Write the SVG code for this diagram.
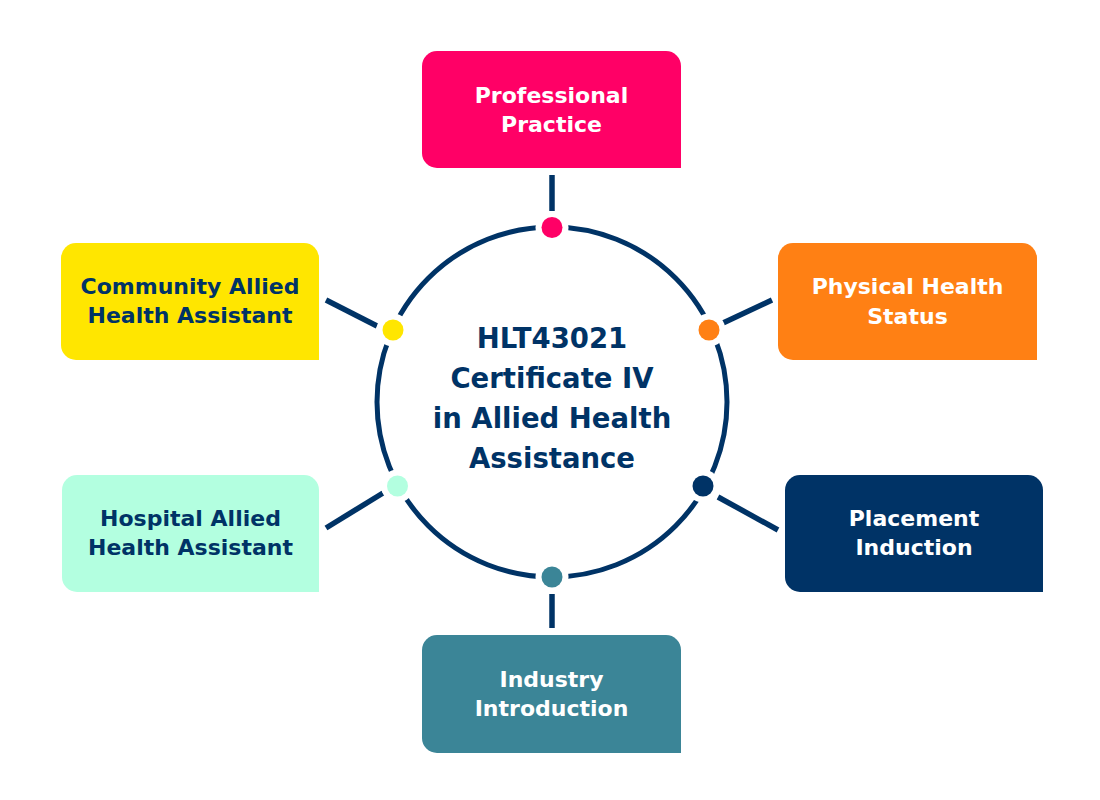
<svg xmlns="http://www.w3.org/2000/svg" width="1100" height="800" viewBox="0 0 1100 800">
<style>
.box-text{font-family:"DejaVu Sans","Liberation Sans",sans-serif;font-weight:bold;font-size:22px;text-anchor:middle}
.center-text{font-family:"DejaVu Sans","Liberation Sans",sans-serif;font-weight:bold;font-size:27.5px;text-anchor:middle;fill:#003366}
.light{fill:#ffffff}
.dark{fill:#003366}
.conn{stroke:#003366;stroke-width:5.5;fill:none}
.halo{fill:#ffffff}
</style>
<rect width="1100" height="800" fill="#ffffff"/>
<g id="center">
<circle cx="552" cy="402" r="175" fill="none" stroke="#003366" stroke-width="5"/>
<text class="center-text" x="552" y="348">HLT43021</text>
<text class="center-text" x="552" y="388">Certificate IV</text>
<text class="center-text" x="552" y="428">in Allied Health</text>
<text class="center-text" x="552" y="468">Assistance</text>
</g>
<g id="connectors">
<line class="conn" x1="552" y1="175" x2="552" y2="211"/>
<line class="conn" x1="552" y1="594" x2="552" y2="628"/>
<line class="conn" x1="326" y1="300" x2="377" y2="326"/>
<line class="conn" x1="723" y1="323" x2="772" y2="300"/>
<line class="conn" x1="326" y1="528" x2="383" y2="493"/>
<line class="conn" x1="718" y1="497" x2="778" y2="530"/>
</g>
<g id="professional-practice">
<path d="M437,51 H666 A15,15 0 0 1 681,66 V168 H437 A15,15 0 0 1 422,153 V66 A15,15 0 0 1 437,51 Z" fill="#ff0066"/>
<text class="box-text light" x="551.5" y="103">Professional</text>
<text class="box-text light" x="551.5" y="132">Practice</text>
<circle class="halo" cx="552" cy="227.5" r="16.5"/>
<circle cx="552" cy="227.5" r="10.5" fill="#ff0066"/>
</g>
<g id="community-allied">
<path d="M76,243 H304 A15,15 0 0 1 319,258 V360 H76 A15,15 0 0 1 61,345 V258 A15,15 0 0 1 76,243 Z" fill="#ffe600"/>
<text class="box-text dark" x="190" y="294">Community Allied</text>
<text class="box-text dark" x="190" y="323">Health Assistant</text>
<circle class="halo" cx="393" cy="330" r="16.5"/>
<circle cx="393" cy="330" r="10.5" fill="#ffe600"/>
</g>
<g id="physical-health">
<path d="M793,243 H1022 A15,15 0 0 1 1037,258 V360 H793 A15,15 0 0 1 778,345 V258 A15,15 0 0 1 793,243 Z" fill="#ff8014"/>
<text class="box-text light" x="907.5" y="294">Physical Health</text>
<text class="box-text light" x="907.5" y="324">Status</text>
<circle class="halo" cx="709" cy="330" r="16.5"/>
<circle cx="709" cy="330" r="10.5" fill="#ff8014"/>
</g>
<g id="hospital-allied">
<path d="M77,475 H304 A15,15 0 0 1 319,490 V592 H77 A15,15 0 0 1 62,577 V490 A15,15 0 0 1 77,475 Z" fill="#b3ffe0"/>
<text class="box-text dark" x="190.5" y="526">Hospital Allied</text>
<text class="box-text dark" x="190.5" y="555">Health Assistant</text>
<circle class="halo" cx="397.5" cy="486" r="16.5"/>
<circle cx="397.5" cy="486" r="10.5" fill="#b3ffe0"/>
</g>
<g id="placement-induction">
<path d="M800,475 H1028 A15,15 0 0 1 1043,490 V592 H800 A15,15 0 0 1 785,577 V490 A15,15 0 0 1 800,475 Z" fill="#003366"/>
<text class="box-text light" x="914" y="526">Placement</text>
<text class="box-text light" x="914" y="555">Induction</text>
<circle class="halo" cx="703" cy="486" r="16.5"/>
<circle cx="703" cy="486" r="10.5" fill="#003366"/>
</g>
<g id="industry-introduction">
<path d="M437,635 H666 A15,15 0 0 1 681,650 V753 H437 A15,15 0 0 1 422,738 V650 A15,15 0 0 1 437,635 Z" fill="#3b8597"/>
<text class="box-text light" x="551.5" y="687">Industry</text>
<text class="box-text light" x="551.5" y="716">Introduction</text>
<circle class="halo" cx="552" cy="577" r="16.5"/>
<circle cx="552" cy="577" r="10.5" fill="#3b8597"/>
</g>
</svg>
